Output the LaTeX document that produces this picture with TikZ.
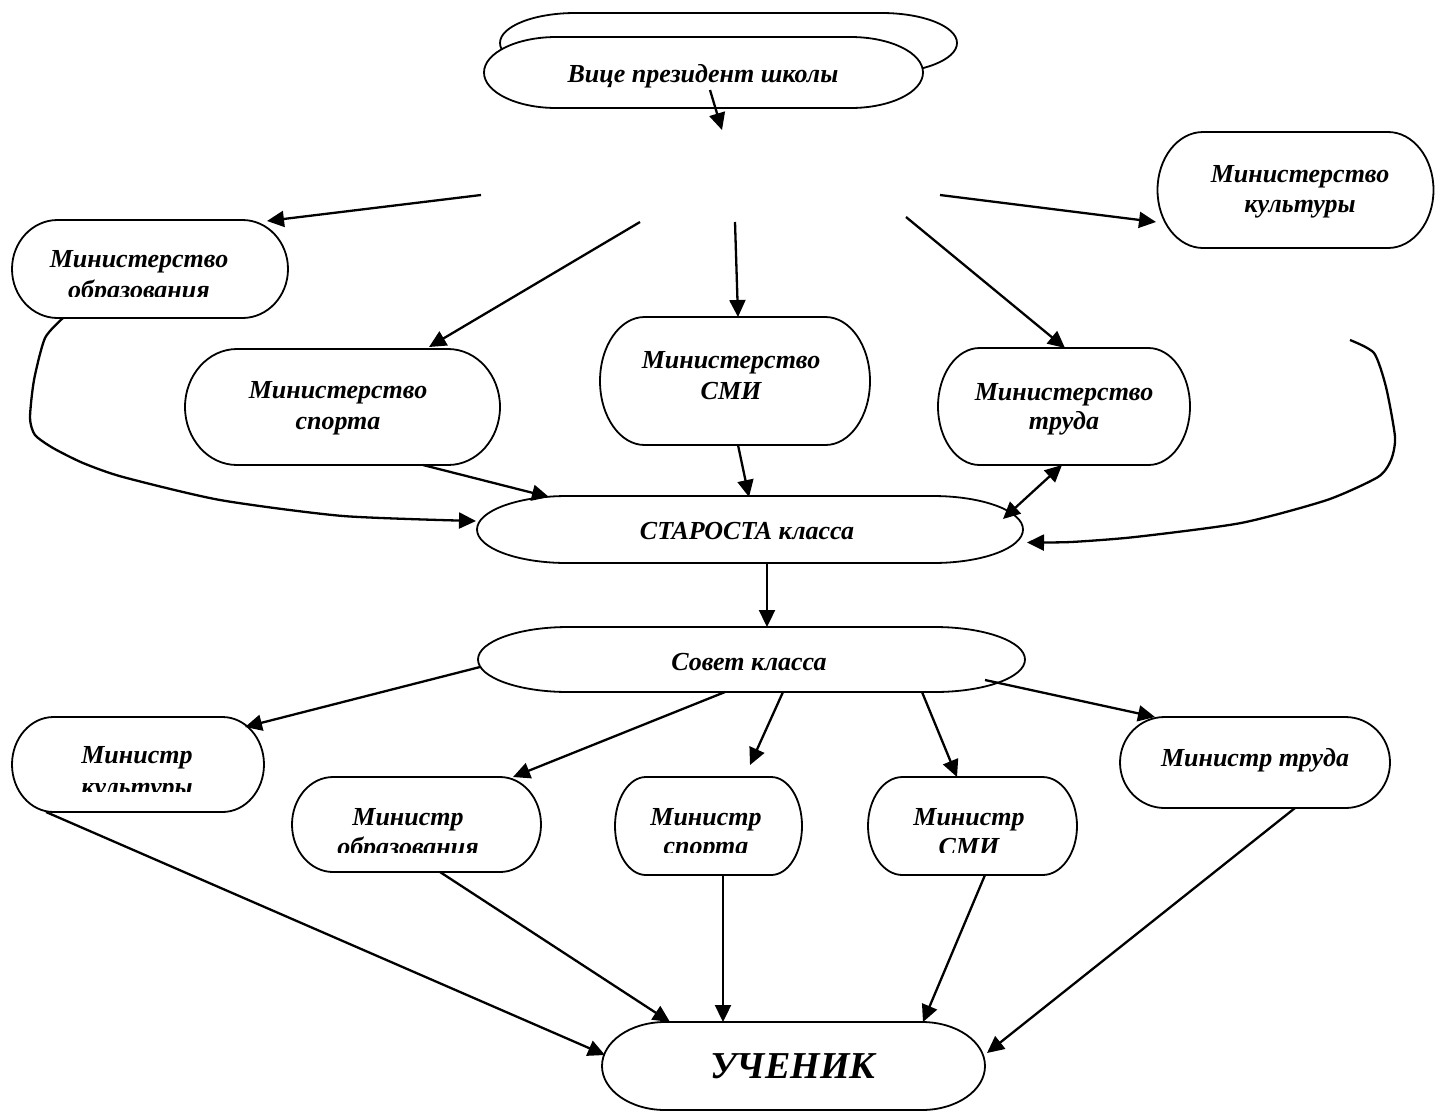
\documentclass[tikz,border=0pt]{standalone}
\usepackage{fontspec}
\setmainfont{Liberation Serif}
\usetikzlibrary{arrows.meta,calc}
\newcommand\trm[5]{%
 \pgfmathsetmacro\trmL{#2-#4/2}\pgfmathsetmacro\trmR{#2+#4/2}%
 \pgfmathsetmacro\trmT{#3-#5/2}\pgfmathsetmacro\trmB{#3+#5/2}%
 \pgfmathsetmacro\trmX{0.165*#4}\pgfmathsetmacro\trmY{#5/2}%
 \pgfmathsetmacro\trmK{0.5523}%
 \node[inner sep=0pt, minimum width=#4pt, minimum height=#5pt] (#1) at (#2,#3) {};
 \draw[outl] (\trmL+\trmX,\trmT) -- (\trmR-\trmX,\trmT)
   .. controls (\trmR-\trmX+\trmK*\trmX,\trmT) and (\trmR,#3-\trmK*\trmY) .. (\trmR,#3)
   .. controls (\trmR,#3+\trmK*\trmY) and (\trmR-\trmX+\trmK*\trmX,\trmB) .. (\trmR-\trmX,\trmB)
   -- (\trmL+\trmX,\trmB)
   .. controls (\trmL+\trmX-\trmK*\trmX,\trmB) and (\trmL,#3+\trmK*\trmY) .. (\trmL,#3)
   .. controls (\trmL,#3-\trmK*\trmY) and (\trmL+\trmX-\trmK*\trmX,\trmT) .. (\trmL+\trmX,\trmT) -- cycle;
}
\begin{document}
\begin{tikzpicture}[x=1pt,y=-1pt,
  outl/.style={line width=1.8pt, fill=white},
  con/.style={line width=2.3pt, ->},
  >={Triangle[length=17pt,width=16pt]},
  txt/.style={font=\bfseries\itshape\fontsize{26}{30}\selectfont, inner sep=0pt, anchor=base},
  bigtxt/.style={font=\bfseries\itshape\fontsize{38}{44}\selectfont, inner sep=0pt, anchor=base}]
\useasboundingbox (0,0) rectangle (1435,1112);
\fill[white] (0,0) rectangle (1435,1112);

% shapes
\trm{vpb}{728.5}{43}{457}{60}
\trm{vp}{703.5}{72.5}{439}{71}
\trm{mobr}{150}{269}{276}{98}
\trm{msport}{342.5}{407}{315}{116}
\trm{msmi}{735}{381}{270}{128}
\trm{mtrud}{1064}{406.5}{252}{117}
\trm{mkult}{1295.5}{190}{276}{116}
\trm{star}{750}{529.5}{546}{67}
\trm{sovet}{751.5}{659.5}{547}{65}
\trm{ka}{138}{764.5}{252}{95}
\trm{kb}{416.5}{824.5}{249}{95}
\trm{kc}{708.5}{826}{187}{98}
\trm{kd}{972.5}{826}{209}{98}
\trm{ke}{1255}{762.5}{270}{91}
\trm{uch}{793.5}{1066}{383}{88}

% texts
\node[txt] (t-vp) at (703,82) {Вице президент школы};
\node[txt] (t-mobr1) at (139,267) {Министерство};
\begin{scope}\clip (12,220) rectangle (288,296);
\node[txt] (t-mobr2) at (139,298) {образования};
\end{scope}
\node[txt] (t-msport1) at (338,398) {Министерство};
\node[txt] (t-msport2) at (338,429) {спорта};
\node[txt] (t-msmi1) at (731,368) {Министерство};
\node[txt] (t-msmi2) at (731,399) {СМИ};
\node[txt] (t-mtrud1) at (1064,400) {Министерство};
\node[txt] (t-mtrud2) at (1064,429) {труда};
\node[txt] (t-mkult1) at (1300,182) {Министерство};
\node[txt] (t-mkult2) at (1300,212) {культуры};
\node[txt] (t-star) at (747,539) {СТАРОСТА класса};
\node[txt] (t-sovet) at (749,670) {Совет класса};
\node[txt] (t-ka1) at (137,763) {Министр};
\begin{scope}\clip (12,717) rectangle (264,791);
\node[txt] (t-ka2) at (137,795) {культуры};
\end{scope}
\node[txt] (t-kb1) at (408,825) {Министр};
\begin{scope}\clip (292,777) rectangle (541,852);
\node[txt] (t-kb2) at (408,855) {образования};
\end{scope}
\node[txt] (t-kc1) at (706,825) {Министр};
\begin{scope}\clip (615,777) rectangle (802,852);
\node[txt] (t-kc2) at (706,854) {спорта};
\end{scope}
\node[txt] (t-kd1) at (969,825) {Министр};
\begin{scope}\clip (868,777) rectangle (1077,852);
\node[txt] (t-kd2) at (969,855) {СМИ};
\end{scope}
\node[txt] (t-ke) at (1255,766) {Министр труда};
\node[bigtxt] (t-uch) at (793,1078) {УЧЕНИК};

% free ends
\coordinate (h0) at (722,130);
\coordinate (h1) at (481,195);
\coordinate (h2) at (640,222);
\coordinate (h3) at (735,222);
\coordinate (h4) at (906,217);
\coordinate (h5) at (940,195);
\coordinate (r0) at (1350,340);

% connectors
\draw[con] ($(vp)+(6.5,17.5)$) -- (h0);
\draw[con] (h1) -- ($(mobr)+(117,-48)$);
\draw[con] (h2) -- ($(msport)+(86.5,-60)$);
\draw[con] (h3) -- ($(msmi)+(3,-64)$);
\draw[con] (h4) -- ($(mtrud)+(1,-58.5)$);
\draw[con] (h5) -- ($(mkult)+(-139.5,32)$);
\draw[con] ($(msport)+(80.5,58)$) -- ($(star)+(-201,-32.5)$);
\draw[con] ($(msmi)+(3,64)$) -- ($(star)+(-1,-32.5)$);
\draw[con,<->] ($(mtrud)+(-2,58.5)$) -- ($(star)+(253,-10.5)$);
\draw[con] plot[smooth,tension=0.4] coordinates {($(mobr)+(-87,49)$) (45,338) (34,380) (30,418) (35,435) (53,448) (83,463) (123,477) (220,500) (343,516) ($(star)+(-274,-8.5)$)};
\draw[con] plot[smooth,tension=0.4] coordinates {(r0) (1374,353) (1386,387) (1395,437) (1391,460) (1378,477) (1327,500) (1241,523) (1135,537) (1071,542) ($(star)+(277,13)$)};
\draw[con] ($(star)+(17,32.5)$) -- ($(sovet)+(15.5,-32.5)$);
\draw[con] ($(sovet)+(-271.5,7.5)$) -- ($(ka)+(107,-37.5)$);
\draw[con] ($(sovet)+(-26.5,32.5)$) -- ($(kb)+(96.5,-47.5)$);
\draw[con] ($(sovet)+(31.5,32.5)$) -- ($(kc)+(41.5,-61)$);
\draw[con] ($(sovet)+(170.5,32.5)$) -- ($(kd)+(-15.5,-49)$);
\draw[con] ($(sovet)+(233.5,20.5)$) -- ($(ke)+(-100,-45.5)$);
\draw[con] ($(ka)+(-92,47.5)$) -- ($(uch)+(-188.5,-11)$);
\draw[con] ($(kb)+(23.5,47.5)$) -- ($(uch)+(-123.5,-44)$);
\draw[con] ($(kc)+(14.5,49)$) -- ($(uch)+(-70.5,-44)$);
\draw[con] ($(kd)+(12.5,49)$) -- ($(uch)+(129.5,-44)$);
\draw[con] ($(ke)+(40,45.5)$) -- ($(uch)+(193.5,-13)$);
\end{tikzpicture}
\end{document}
